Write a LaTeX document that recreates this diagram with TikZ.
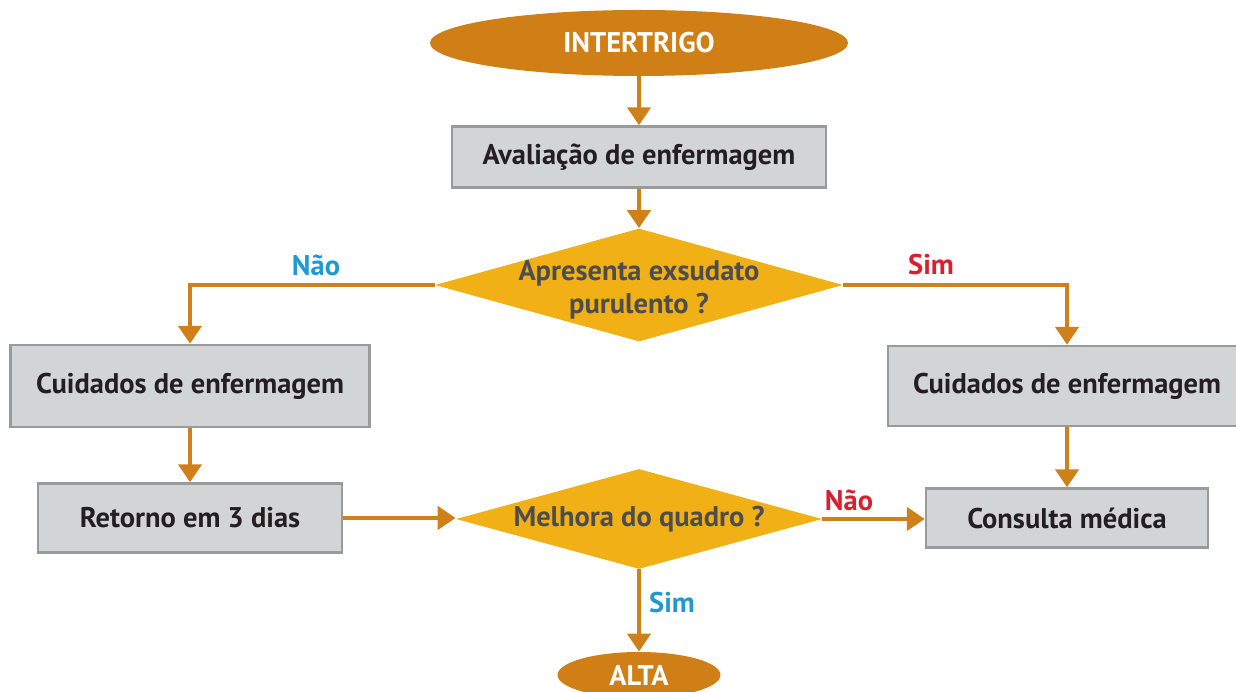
\documentclass[tikz,border=0pt]{standalone}
\usepackage{fontspec}
\setmainfont{PT Sans}
\definecolor{ovalorange}{RGB}{207, 127, 22}
\definecolor{flowarrow}{RGB}{208, 128, 24}
\definecolor{diamgold}{RGB}{240, 176, 22}
\definecolor{boxgrey}{RGB}{211, 212, 214}
\definecolor{boxedge}{RGB}{153, 154, 156}
\definecolor{darktext}{RGB}{35, 31, 32}
\definecolor{diamtext}{RGB}{77, 77, 79}
\definecolor{yesred}{RGB}{215, 32, 48}
\definecolor{noblue}{RGB}{30, 154, 208}
\usetikzlibrary{shapes, arrows.meta, positioning, calc}

\begin{document}
\begin{tikzpicture}[
    font=\fontsize{16.2}{18.5}\selectfont\bfseries,
    terminal/.style={ellipse, fill=ovalorange, text=white, inner sep=0pt},
    stepbox/.style={rectangle, fill=boxgrey, draw=boxedge, line width=1.4pt, text=darktext, inner sep=0pt},
    decision/.style={diamond, fill=diamgold, inner sep=0pt},
    qtext/.style={text=diamtext, align=center, inner sep=0pt},
    flow/.style={draw=flowarrow, line width=2.8pt, -{Triangle[width=0.46cm, length=0.36cm]}}
  ]
  \useasboundingbox (0, 0) rectangle (24.72, -13.84);
  \clip (0, 0) rectangle (24.72, -13.84);

  % Top
  \node[terminal, minimum width=8.36cm, minimum height=1.32cm] (start) at (12.78, -0.86) {INTERTRIGO};
  \node[stepbox, minimum width=7.48cm, minimum height=1.22cm] (aval) at (12.78, -3.14) {Avaliação de enfermagem};
  \node[decision, minimum width=8.16cm, minimum height=2.26cm] (q1) at (12.78, -5.70) {};
  \node[qtext] (q1txt) at (12.78, -5.80) {Apresenta exsudato\\purulento ?};

  % Left branch
  \node[stepbox, minimum width=7.18cm, minimum height=1.64cm] (cuidl) at (3.8, -7.72) {Cuidados de enfermagem};
  \node[stepbox, minimum width=6.08cm, minimum height=1.38cm] (ret) at (3.8, -10.36) {Retorno em 3 dias};

  % Right branch
  \node[stepbox, minimum width=7.16cm, minimum height=1.6cm] (cuidr) at (21.34, -7.72) {Cuidados de enfermagem};
  \node[stepbox, minimum width=5.64cm, minimum height=1.18cm] (cons) at (21.34, -10.36) {Consulta médica};

  % Bottom
  \node[decision, minimum width=7.32cm, minimum height=2.0cm] (q2) at (12.78, -10.38) {};
  \node[qtext] (q2txt) at (12.78, -10.38) {Melhora do quadro ?};
  \node[terminal, minimum width=3.26cm, minimum height=0.92cm] (alta) at (12.78, -13.50) {ALTA};

  % Arrows
  \draw[flow] (start) -- (aval);
  \draw[flow] (aval) -- (q1);
  \draw[flow] (q1.west) -| (cuidl.north);
  \draw[flow] (q1.east) -| (cuidr.north);
  \draw[flow] (cuidl) -- (ret);
  \draw[flow] (cuidr) -- (cons);
  \draw[flow] (ret) -- (ret -| q2.west);
  \draw[flow] (q2.east) -- (q2.east -| cons.west);
  \draw[flow] (q2) -- (alta);

  % Labels
  \node[noblue] (lnao1) at (6.32, -5.30) {Não};
  \node[yesred] (lsim1) at (18.62, -5.30) {Sim};
  \node[yesred] (lnao2) at (16.98, -10.0) {Não};
  \node[noblue] (lsim2) at (13.44, -12.06) {Sim};
\end{tikzpicture}
\end{document}
